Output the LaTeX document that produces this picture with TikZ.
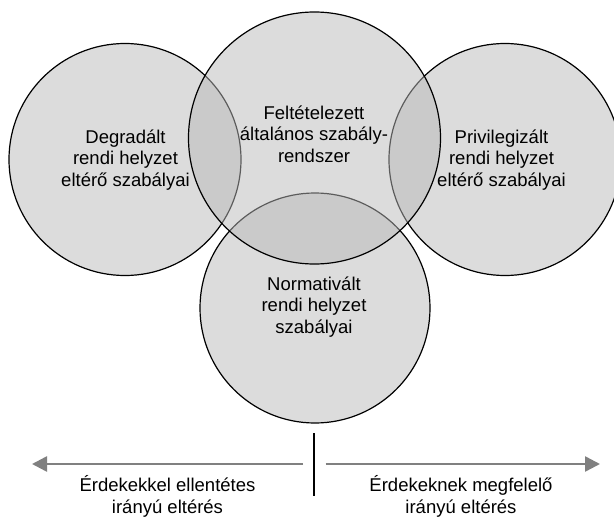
\documentclass[tikz,border=0pt]{standalone}
\usepackage{fontspec}
\setmainfont{Liberation Sans}
\usetikzlibrary{arrows.meta}
\definecolor{cfill}{gray}{0.726}
\definecolor{arrgray}{HTML}{808080}
\begin{document}
\begin{tikzpicture}[x=1pt,y=-1pt,
  venn/.style={circle, draw=black, line width=1.2pt, fill=cfill, fill opacity=0.5, inner sep=0pt, outer sep=0pt},
  lbl/.style={align=center, font=\fontsize{18.5}{21.5}\selectfont, text=black, inner sep=0pt},
  dirarrow/.style={draw=arrgray, line width=2.5pt, -{Triangle[length=15pt,width=15pt]}},
  splitline/.style={draw=black, line width=1.6pt}]
\useasboundingbox (0,0) rectangle (614,517);
\clip (0,0) rectangle (614,517);
% circles (central one last so its outline stays black)
\node[venn, minimum size=232pt] (L) at (125,159.5) {};
\node[venn, minimum size=232pt] (R) at (505,159.5) {};
\node[venn, minimum size=230pt] (B) at (315,308) {};
\node[venn, minimum size=252pt] (C) at (314.5,138) {};
% labels
\node[lbl] (tL) at (125.5,160) {Degradált\\rendi helyzet\\eltérő szabályai};
\node[lbl] (tR) at (501.5,160) {Privilegizált\\rendi helyzet\\eltérő szabályai};
\node[lbl] (tC) at (314,134) {Feltételezett\\általános szabály-\\rendszer};
\node[lbl] (tB) at (314,307) {Normativált\\rendi helyzet\\szabályai};
% bottom axis
\coordinate (vtop) at (314,433);
\coordinate (vbot) at (314,496);
\draw[splitline] (vtop) -- (vbot);
\coordinate (lstart) at (303,464);
\coordinate (lend) at (32,464);
\coordinate (rstart) at (325.5,464);
\coordinate (rend) at (600,464);
\draw[dirarrow] (lstart) -- (lend);
\draw[dirarrow] (rstart) -- (rend);
\node[lbl] (tLeft) at (167.5,496.5) {Érdekekkel ellentétes\\irányú eltérés};
\node[lbl] (tRight) at (461,496.5) {Érdekeknek megfelelő\\irányú eltérés};
\end{tikzpicture}
\end{document}
